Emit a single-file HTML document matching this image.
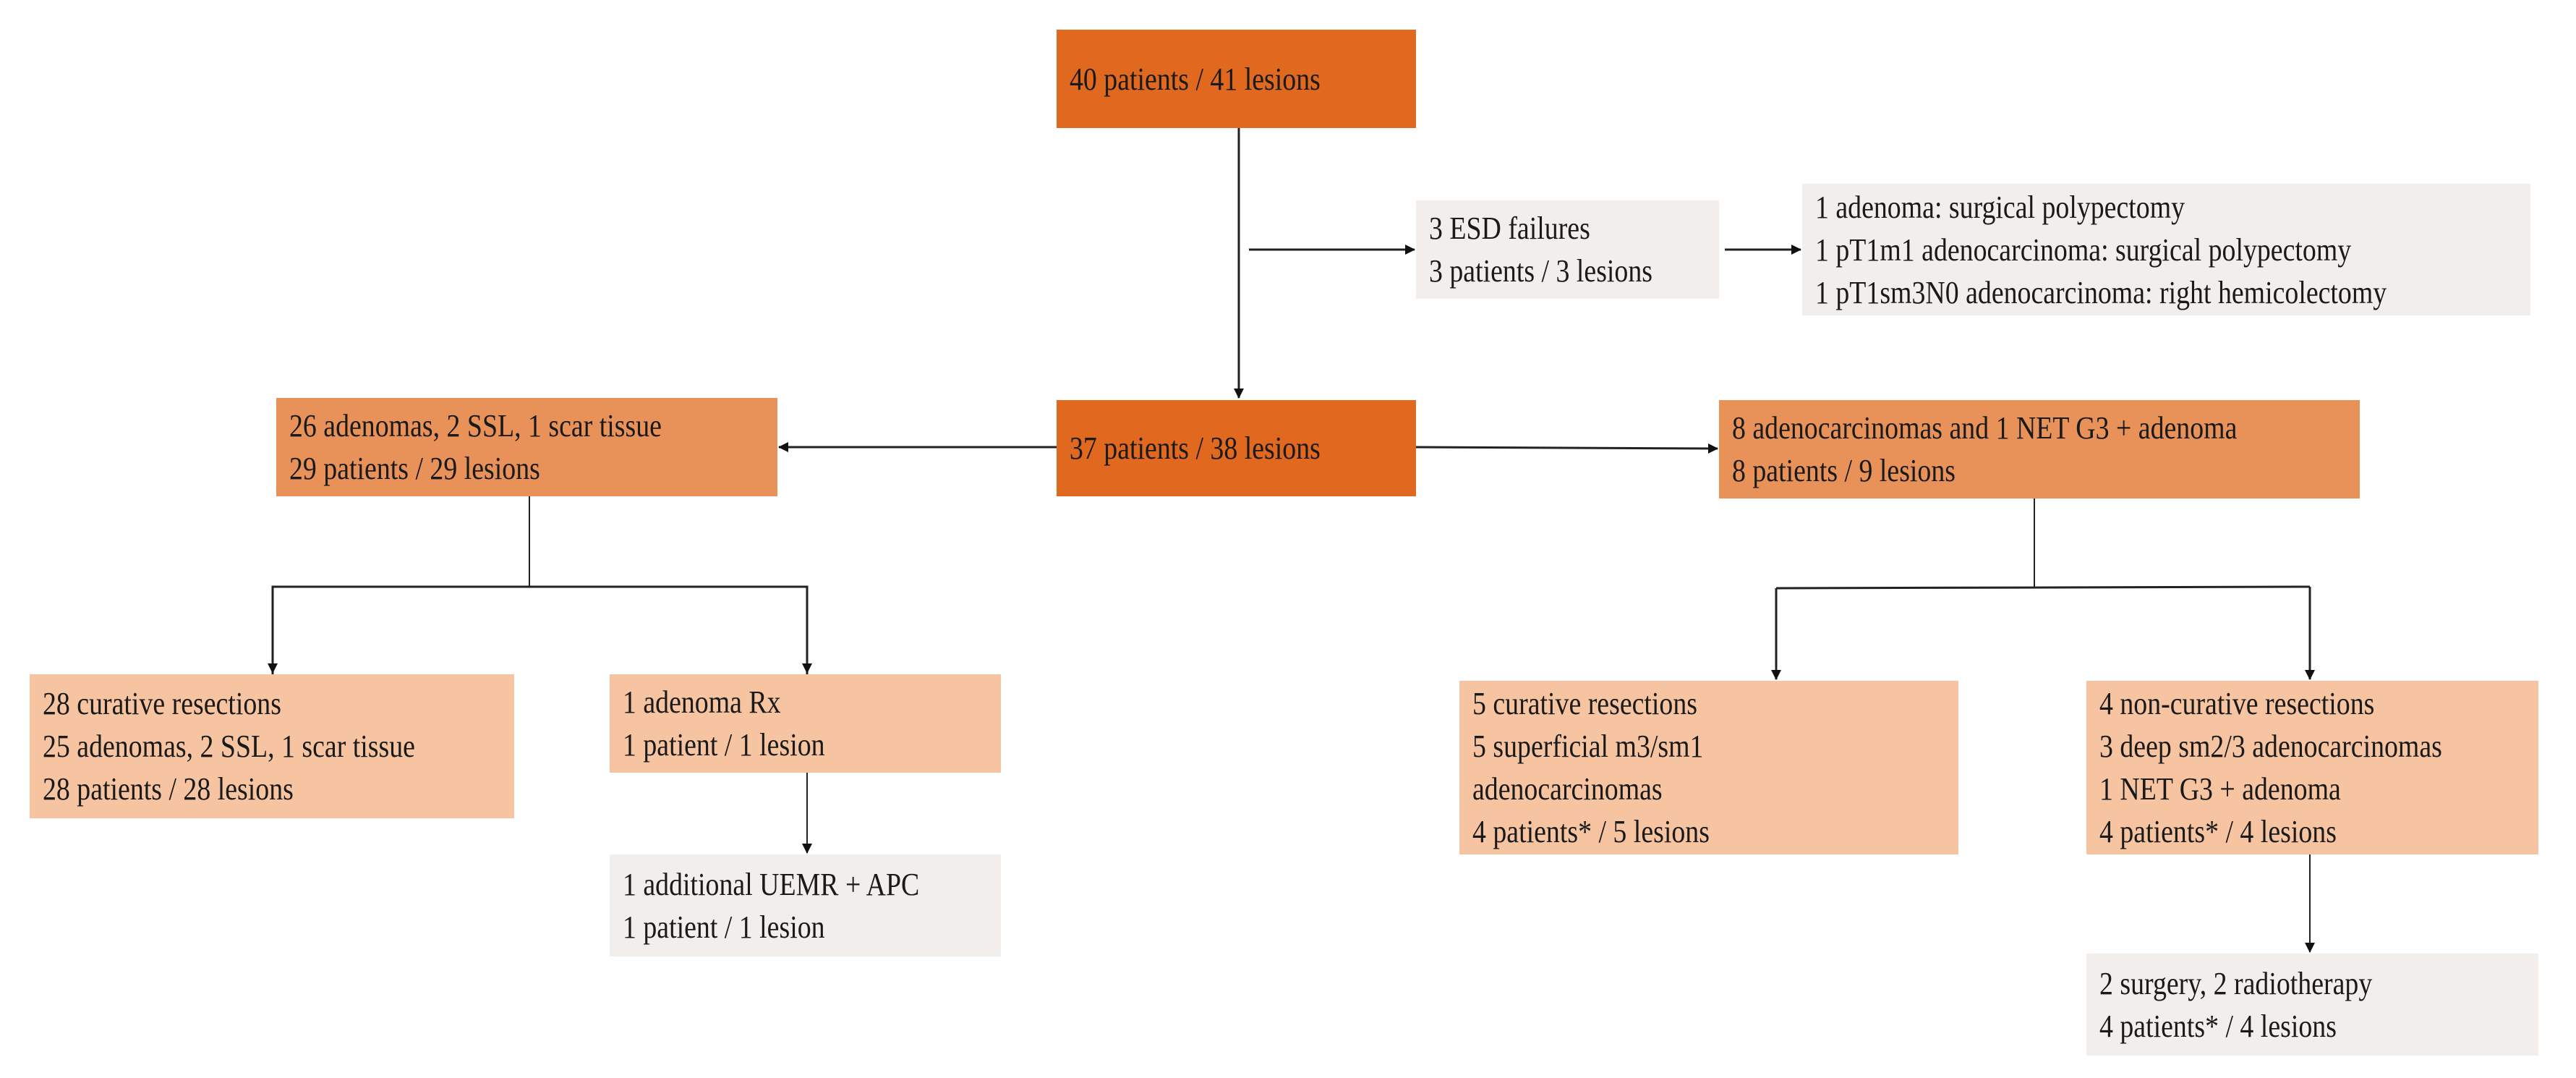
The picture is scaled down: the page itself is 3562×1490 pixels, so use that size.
<!DOCTYPE html>
<html><head><meta charset="utf-8"><style>
html,body{margin:0;padding:0;background:#fff;}
body{width:3562px;height:1490px;position:relative;overflow:hidden;font-family:"Liberation Serif",serif;color:#1a1a1a;}
.b{position:absolute;box-sizing:border-box;padding-left:18px;display:flex;flex-direction:column;justify-content:center;font-size:44px;line-height:59px;white-space:nowrap;}
.b span{display:block;transform:scaleX(0.86);transform-origin:left center;}
.d{background:#e0681f;}
.m{background:#e8925a;}
.l{background:#f6c4a0;}
.g{background:#f2eeeb;}
svg{position:absolute;left:0;top:0;}
</style></head><body>
<svg width="3562" height="1490">
<defs><marker id="a" markerWidth="10" markerHeight="10" refX="9" refY="5" orient="auto" markerUnits="userSpaceOnUse"><path d="M0,0 L10,5 L0,10 z" fill="#111"/></marker>
<marker id="a2" markerWidth="14" markerHeight="14" refX="13" refY="7" orient="auto" markerUnits="userSpaceOnUse"><path d="M0,0 L14,7 L0,14 z" fill="#111"/></marker></defs>
<g stroke="#222" stroke-width="3" fill="none">
<line x1="1713" y1="177" x2="1713" y2="550" marker-end="url(#a2)"/>
<line x1="1727" y1="345" x2="1956" y2="345" marker-end="url(#a2)"/>
<line x1="2385" y1="345" x2="2490" y2="345" marker-end="url(#a2)"/>
<line x1="1461" y1="618" x2="1077" y2="618" marker-end="url(#a2)"/>
<line x1="1958" y1="618" x2="2375" y2="620" marker-end="url(#a2)"/>
<line x1="732" y1="686" x2="732" y2="811" stroke-width="2"/>
<polyline points="377,932 377,811 1116,811 1116,932" marker-start="url(#a)" />
<line x1="377" y1="811" x2="377" y2="930" marker-end="url(#a2)"/>
<line x1="1116" y1="811" x2="1116" y2="930" marker-end="url(#a2)"/>
<line x1="2813" y1="686" x2="2813" y2="811" stroke-width="2"/>
<line x1="2456" y1="813" x2="3194" y2="811"/>
<line x1="2456" y1="813" x2="2456" y2="939" marker-end="url(#a2)"/>
<line x1="3194" y1="811" x2="3194" y2="939" marker-end="url(#a2)"/>
<line x1="1116" y1="1068" x2="1116" y2="1179" stroke-width="2" marker-end="url(#a2)"/>
<line x1="3194" y1="1181" x2="3194" y2="1316" stroke-width="2" marker-end="url(#a2)"/>
</g></svg>
<div class="b d" style="left:1461px;top:41px;width:497px;height:136px;"><span>40 patients / 41 lesions</span></div>
<div class="b g" style="left:1958px;top:277px;width:419px;height:136px;"><span>3 ESD failures</span><span>3 patients / 3 lesions</span></div>
<div class="b g" style="left:2492px;top:254px;width:1007px;height:182px;"><span>1 adenoma: surgical polypectomy</span><span>1 pT1m1 adenocarcinoma: surgical polypectomy</span><span>1 pT1sm3N0 adenocarcinoma: right hemicolectomy</span></div>
<div class="b d" style="left:1461px;top:553px;width:497px;height:133px;"><span>37 patients / 38 lesions</span></div>
<div class="b m" style="left:382px;top:550px;width:693px;height:136px;"><span>26 adenomas, 2 SSL, 1 scar tissue</span><span>29 patients / 29 lesions</span></div>
<div class="b m" style="left:2377px;top:553px;width:886px;height:136px;"><span>8 adenocarcinomas and 1 NET G3 + adenoma</span><span>8 patients / 9 lesions</span></div>
<div class="b l" style="left:41px;top:932px;width:670px;height:199px;"><span>28 curative resections</span><span>25 adenomas, 2 SSL, 1 scar tissue</span><span>28 patients / 28 lesions</span></div>
<div class="b l" style="left:843px;top:932px;width:541px;height:136px;"><span>1 adenoma Rx</span><span>1 patient / 1 lesion</span></div>
<div class="b g" style="left:843px;top:1181px;width:541px;height:141px;"><span>1 additional UEMR + APC</span><span>1 patient / 1 lesion</span></div>
<div class="b l" style="left:2018px;top:941px;width:690px;height:240px;"><span>5 curative resections</span><span>5 superficial m3/sm1</span><span>adenocarcinomas</span><span>4 patients* / 5 lesions</span></div>
<div class="b l" style="left:2885px;top:941px;width:625px;height:240px;"><span>4 non-curative resections</span><span>3 deep sm2/3 adenocarcinomas</span><span>1 NET G3 + adenoma</span><span>4 patients* / 4 lesions</span></div>
<div class="b g" style="left:2885px;top:1318px;width:625px;height:141px;"><span>2 surgery, 2 radiotherapy</span><span>4 patients* / 4 lesions</span></div>
</body></html>
